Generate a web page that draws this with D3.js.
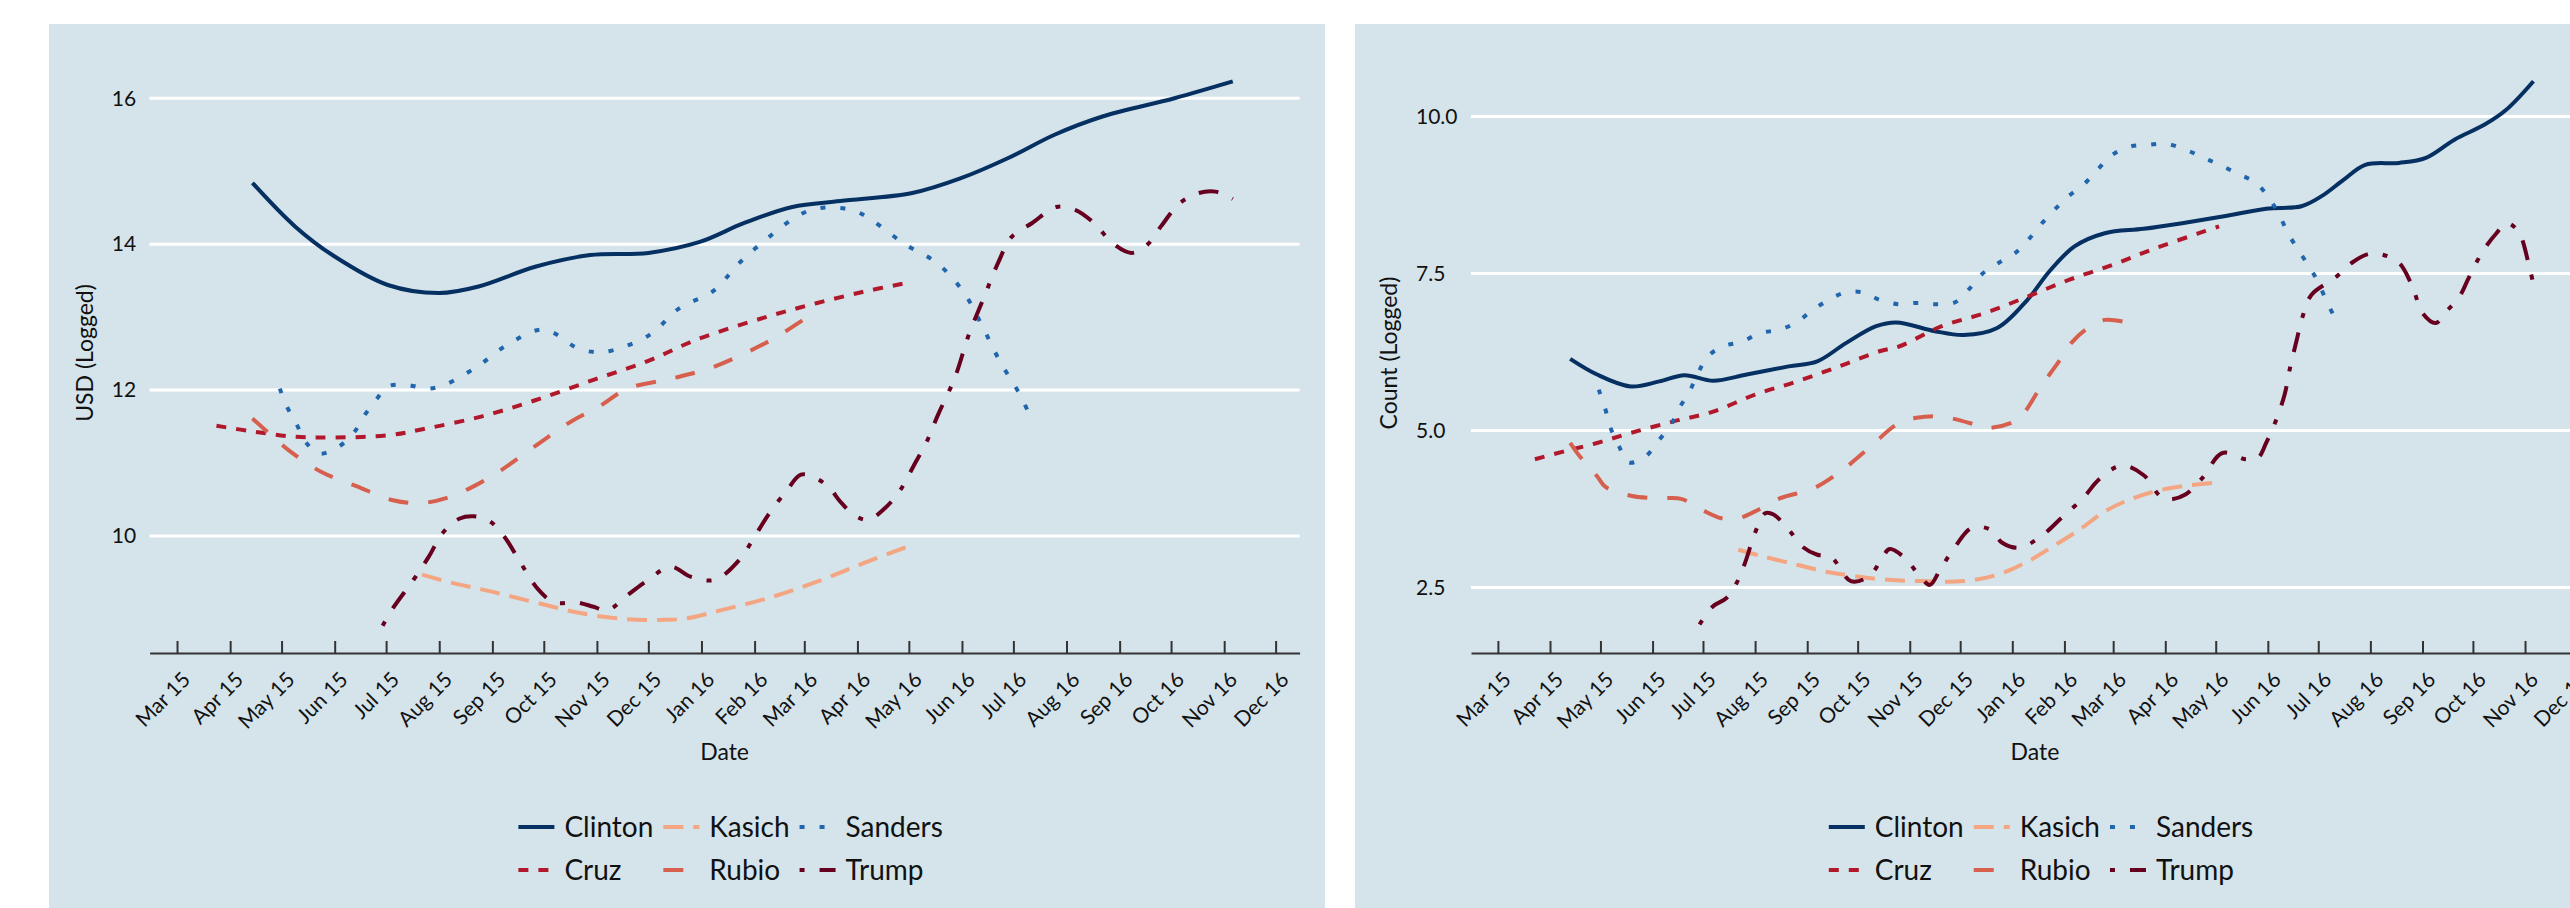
<!DOCTYPE html>
<html>
<head>
<meta charset="utf-8">
<script src="https://cdn.jsdelivr.net/npm/d3@7"></script>
<style>
  body { margin: 0; background: #fff; }
  svg { display: block; font-family: Lato, "Open Sans", sans-serif; }
</style>
</head>
<body>
<svg id="chart" width="2570" height="908"></svg>
<script>
// x values are days counted from 1 Mar 2015
const candidates = ["Clinton", "Cruz", "Kasich", "Rubio", "Sanders", "Trump"];

// left panel: money raised, USD (logged)
const fundsClinton = [[44,14.84],[69,14.24],[92,13.83],[123,13.44],[153,13.33],[176,13.42],[209,13.69],[241,13.85],[275,13.88],[305,14.03],[331,14.29],[359,14.51],[387,14.59],[429,14.70],[457,14.90],[485,15.18],[512,15.50],[540,15.75],[582,16.00],[616,16.23]];
const fundsCruz = [[23,11.51],[45,11.43],[69,11.36],[92,11.35],[123,11.38],[147,11.48],[178,11.64],[209,11.86],[243,12.14],[275,12.40],[303,12.69],[345,13.01],[373,13.19],[401,13.35],[424,13.46]];
const fundsKasich = [[143,9.47],[160,9.36],[183,9.24],[209,9.09],[236,8.94],[262,8.86],[282,8.85],[297,8.87],[317,8.98],[345,9.15],[373,9.37],[401,9.63],[429,9.88]];
const fundsRubio = [[44,11.61],[55,11.38],[66,11.16],[84,10.88],[105,10.68],[126,10.49],[142,10.45],[157,10.52],[173,10.68],[189,10.90],[210,11.25],[230,11.57],[246,11.77],[263,12.02],[289,12.16],[311,12.30],[331,12.50],[350,12.73],[370,13.03],[374,13.07]];
const fundsSanders = [[60,12.02],[64,11.78],[70,11.52],[75,11.29],[83,11.13],[94,11.22],[103,11.41],[109,11.64],[116,11.86],[123,12.05],[134,12.07],[146,12.02],[156,12.07],[175,12.32],[194,12.64],[214,12.83],[234,12.57],[245,12.52],[255,12.55],[276,12.76],[293,13.12],[313,13.36],[328,13.74],[345,14.09],[363,14.40],[374,14.49],[385,14.50],[396,14.45],[406,14.32],[424,14.01],[444,13.73],[459,13.34],[470,12.87],[480,12.40],[492,11.93],[497,11.68]];
const fundsTrump = [[120,8.77],[126,9.01],[138,9.40],[147,9.72],[155,10.04],[165,10.24],[173,10.27],[182,10.21],[191,9.99],[200,9.65],[211,9.26],[220,9.09],[233,9.09],[243,9.03],[251,8.98],[264,9.21],[275,9.40],[288,9.58],[300,9.44],[314,9.40],[328,9.67],[337,9.99],[345,10.29],[356,10.63],[364,10.84],[373,10.79],[381,10.65],[387,10.47],[395,10.29],[403,10.22],[413,10.38],[422,10.63],[430,10.97],[437,11.27],[444,11.66],[454,12.18],[462,12.76],[471,13.28],[479,13.74],[487,14.10],[499,14.29],[513,14.51],[524,14.47],[535,14.29],[546,14.01],[557,13.88],[566,13.99],[574,14.24],[585,14.56],[596,14.70],[606,14.72],[616,14.62]];

// right panel: counts (logged)
const countClinton = [[43,6.14],[59,5.89],[79,5.70],[96,5.78],[111,5.88],[128,5.79],[148,5.89],[173,6.02],[190,6.10],[207,6.39],[225,6.66],[237,6.72],[260,6.58],[277,6.52],[297,6.63],[315,7.08],[328,7.53],[343,7.93],[361,8.14],[384,8.21],[407,8.30],[432,8.41],[457,8.53],[478,8.57],[490,8.73],[503,8.99],[516,9.23],[536,9.26],[552,9.34],[569,9.63],[587,9.87],[600,10.11],[616,10.56]];
const countCruz = [[22,4.54],[40,4.67],[59,4.80],[79,4.96],[104,5.14],[128,5.30],[153,5.57],[178,5.78],[203,6.02],[227,6.26],[239,6.34],[264,6.66],[290,6.87],[315,7.13],[340,7.40],[366,7.64],[391,7.90],[417,8.14],[429,8.25]];
const countKasich = [[143,3.10],[158,2.99],[178,2.86],[195,2.75],[212,2.68],[232,2.62],[252,2.60],[277,2.60],[297,2.70],[315,2.91],[330,3.15],[346,3.42],[361,3.71],[376,3.90],[391,4.03],[407,4.11],[428,4.17]];
const countRubio = [[43,4.80],[48,4.61],[59,4.27],[64,4.10],[79,3.96],[96,3.92],[109,3.91],[121,3.74],[133,3.60],[143,3.60],[153,3.71],[168,3.92],[188,4.08],[205,4.37],[222,4.75],[237,5.09],[249,5.20],[264,5.22],[287,5.07],[292,5.04],[307,5.14],[313,5.28],[323,5.70],[333,6.07],[341,6.39],[351,6.63],[361,6.76],[376,6.71]];
const countSanders = [[60,5.65],[64,5.33],[67,5.04],[72,4.75],[78,4.49],[88,4.59],[95,4.82],[103,5.09],[108,5.36],[114,5.62],[119,5.91],[125,6.18],[134,6.34],[145,6.41],[156,6.55],[167,6.60],[177,6.71],[186,6.89],[195,7.05],[206,7.19],[217,7.20],[227,7.08],[238,7.01],[249,7.03],[260,7.01],[272,7.04],[280,7.24],[288,7.49],[298,7.67],[308,7.83],[316,8.05],[323,8.28],[331,8.51],[339,8.72],[349,8.93],[357,9.16],[365,9.38],[376,9.52],[387,9.55],[398,9.56],[410,9.46],[420,9.34],[430,9.22],[440,9.09],[451,8.94],[459,8.69],[465,8.42],[470,8.14],[476,7.88],[482,7.63],[488,7.36],[493,7.05],[498,6.79]];
const countTrump = [[120,1.91],[128,2.20],[136,2.33],[142,2.57],[147,2.89],[153,3.37],[159,3.68],[164,3.66],[173,3.42],[181,3.15],[190,3.02],[198,2.99],[210,2.60],[221,2.68],[228,2.94],[233,3.11],[242,2.97],[251,2.68],[257,2.54],[263,2.78],[272,3.15],[282,3.45],[293,3.42],[300,3.21],[310,3.13],[323,3.31],[335,3.60],[348,3.92],[358,4.23],[371,4.44],[384,4.29],[394,3.95],[399,3.90],[409,3.98],[419,4.24],[431,4.64],[445,4.54],[452,4.56],[457,4.80],[463,5.17],[468,5.57],[471,5.97],[475,6.42],[479,6.84],[484,7.16],[498,7.43],[508,7.67],[518,7.81],[526,7.80],[536,7.67],[544,7.29],[550,6.87],[558,6.71],[564,6.89],[572,7.13],[577,7.40],[582,7.67],[587,7.90],[594,8.14],[600,8.30],[607,8.17],[613,7.67],[616,7.32]];

const fundsTicks = [10, 12, 14, 16];
const countTicks = [2.5, 5, 7.5, 10];

// styles
const colors = ["#053061", "#b2182b", "#f4a582", "#d6604d", "#2166ac", "#67001f"];
const dashes = [null, "10,10", "20,10", "20,20", "5,15", "5,15,20,15"];

const H = 908;
const plotTop = 53, plotBottom = 653;
const day0 = new Date(2015, 2, 1);
const toDate = d => d3.timeDay.offset(day0, d);
const xDomain = [new Date(2015, 1, 13), new Date(2016, 11, 15)];
const months = d3.timeMonth.range(new Date(2015, 2, 1), new Date(2016, 11, 2));

const svg = d3.select("#chart");

const panels = [
  { bgX: 49, plotX: 149.6, plotW: 1150, yDomain: [8.396, 16.62], ticks: fundsTicks,
    fmt: d3.format("d"), title: "USD (Logged)",
    series: [fundsClinton, fundsCruz, fundsKasich, fundsRubio, fundsSanders, fundsTrump] },
  { bgX: 1355, plotX: 1471, plotW: 1128, yDomain: [1.455, 11.01], ticks: countTicks,
    fmt: d3.format(".1f"), title: "Count (Logged)",
    series: [countClinton, countCruz, countKasich, countRubio, countSanders, countTrump] }
];

panels.forEach(p => {
  const g = svg.append("g");

  g.append("rect")
    .attr("x", p.bgX).attr("y", 24)
    .attr("width", 1276).attr("height", H - 24)
    .attr("fill", "#d5e4eb");

  const x = d3.scaleTime().domain(xDomain).range([p.plotX, p.plotX + p.plotW]);
  const y = d3.scaleLinear().domain(p.yDomain).range([plotBottom, plotTop]);

  // horizontal grid
  g.selectAll(".grid")
    .data(p.ticks)
    .enter()
    .append("line")
    .attr("x1", p.plotX).attr("x2", p.plotX + p.plotW)
    .attr("y1", d => y(d)).attr("y2", d => y(d))
    .attr("stroke", "#fff")
    .attr("stroke-width", 3);

  // y tick labels, left aligned like the original
  const labels = g.selectAll(".ylab")
    .data(p.ticks)
    .enter()
    .append("text")
    .attr("y", d => y(d))
    .attr("dy", "0.35em")
    .attr("fill", "#111")
    .style("font-size", "21px")
    .text(p.fmt);
  const maxW = d3.max(labels.nodes(), n => n.getComputedTextLength());
  const labX = p.plotX - 13.5 - maxW;
  labels.attr("x", labX);

  // y title
  g.append("text")
    .attr("transform", `translate(${labX - 27},${(plotTop + plotBottom) / 2}) rotate(-90)`)
    .attr("text-anchor", "middle")
    .attr("dy", "0.35em")
    .attr("fill", "#111")
    .style("font-size", "23px")
    .text(p.title);

  // x axis with inward ticks
  const ax = g.append("g")
    .attr("transform", `translate(0,${plotBottom})`)
    .call(d3.axisBottom(x)
      .tickValues(months)
      .tickFormat(d3.timeFormat("%b %y"))
      .tickSizeInner(-12)
      .tickSizeOuter(0))
    .attr("font-family", null)
    .attr("font-size", null);
  ax.select(".domain").attr("stroke", "#333").attr("stroke-width", 2);
  ax.selectAll(".tick line").attr("stroke", "#333").attr("stroke-width", 2);
  ax.selectAll(".tick text")
    .attr("x", 0).attr("y", 0).attr("dy", null)
    .attr("text-anchor", "end")
    .attr("transform", "translate(14,28) rotate(-45)")
    .attr("fill", "#111")
    .style("font-size", "21px");

  const cx = p.plotX + p.plotW / 2;

  g.append("text")
    .attr("x", cx).attr("y", 752)
    .attr("dy", "0.35em")
    .attr("text-anchor", "middle")
    .attr("fill", "#111")
    .style("font-size", "23px")
    .text("Date");

  // smoothed lines
  const line = d3.line()
    .x(d => x(toDate(d[0])))
    .y(d => y(d[1]))
    .curve(d3.curveCatmullRom.alpha(0.5));

  p.series.forEach((s, i) => {
    g.append("path")
      .datum(s)
      .attr("d", line)
      .attr("fill", "none")
      .attr("stroke", colors[i])
      .attr("stroke-width", 4)
      .attr("stroke-dasharray", dashes[i]);
  });

  // legend: 3 columns x 2 rows, filled by column
  const leg = g.append("g");
  const rowY = [827, 870];
  let lx = 0;
  for (let c = 0; c < 3; c++) {
    let colW = 0;
    for (let r = 0; r < 2; r++) {
      const i = c * 2 + r;
      leg.append("line")
        .attr("x1", lx).attr("x2", lx + 36)
        .attr("y1", rowY[r]).attr("y2", rowY[r])
        .attr("stroke", colors[i])
        .attr("stroke-width", 4)
        .attr("stroke-dasharray", dashes[i]);
      const t = leg.append("text")
        .attr("x", lx + 46).attr("y", rowY[r])
        .attr("dy", "0.35em")
        .attr("fill", "#111")
        .style("font-size", "28px")
        .text(candidates[i]);
      colW = Math.max(colW, t.node().getComputedTextLength());
    }
    lx += 46 + colW + 10;
  }
  const total = lx - 10;
  leg.attr("transform", `translate(${cx + 6 - total / 2},0)`);
});
</script>
</body>
</html>
